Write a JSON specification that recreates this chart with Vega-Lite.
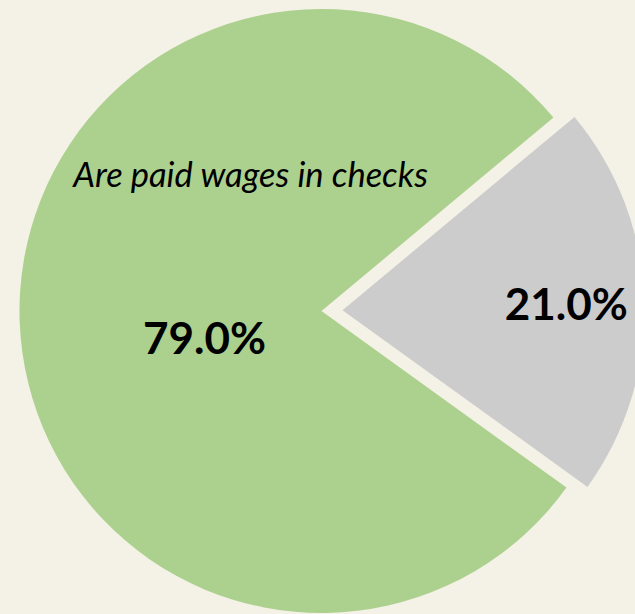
{
  "$schema": "https://vega.github.io/schema/vega-lite/v6.json",
  "autosize": {"type": "fit", "contains": "padding"},
  "width": 635,
  "height": 614,
  "padding": 0,
  "background": "#f4f1e6",
  "view": {"stroke": null},
  "config": {"font": "Lato"},
  "data": {"values": [
    {"group": "Other", "share": 0.21, "idx": 1},
    {"group": "Are paid wages in checks", "share": 0.79, "idx": 2}
  ]},
  "encoding": {
    "theta": {"field": "share", "type": "quantitative", "stack": true, "scale": {"range": [0.876, 7.159]}},
    "order": {"field": "idx", "type": "ordinal"},
    "color": {"field": "group", "type": "nominal", "legend": null,
      "scale": {"domain": ["Are paid wages in checks", "Other"], "range": ["#acd18e", "#cccccc"]}}
  },
  "layer": [
    {
      "mark": {"type": "arc", "outerRadius": 302, "xOffset": 14, "yOffset": 4},
      "encoding": {"opacity": {"condition": {"test": "datum.group == 'Other'", "value": 0}, "value": 1}}
    },
    {
      "mark": {"type": "arc", "outerRadius": 302, "xOffset": 35, "yOffset": 3.3},
      "encoding": {"opacity": {"condition": {"test": "datum.group == 'Other'", "value": 1}, "value": 0}}
    },
    {
      "mark": {"type": "text", "radius": 121, "xOffset": 11, "yOffset": 4, "dx": 7, "dy": 26, "fontSize": 44, "fontWeight": "bold"},
      "encoding": {
        "text": {"field": "share", "type": "quantitative", "format": ".1%"},
        "color": {"value": "#000000"},
        "opacity": {"condition": {"test": "datum.group == 'Other'", "value": 0}, "value": 1}
      }
    },
    {
      "mark": {"type": "text", "radius": 223, "xOffset": 36, "yOffset": 3.3, "dy": 5, "fontSize": 44, "fontWeight": "bold"},
      "encoding": {
        "text": {"field": "share", "type": "quantitative", "format": ".1%"},
        "color": {"value": "#000000"},
        "opacity": {"condition": {"test": "datum.group == 'Other'", "value": 1}, "value": 0}
      }
    },
    {
      "mark": {"type": "text", "radius": 121, "xOffset": 11, "yOffset": 4, "dx": 53, "dy": -138, "fontSize": 34.5, "fontStyle": "italic"},
      "encoding": {
        "text": {"field": "group", "type": "nominal"},
        "color": {"value": "#000000"},
        "opacity": {"condition": {"test": "datum.group == 'Other'", "value": 0}, "value": 1}
      }
    }
  ]
}
